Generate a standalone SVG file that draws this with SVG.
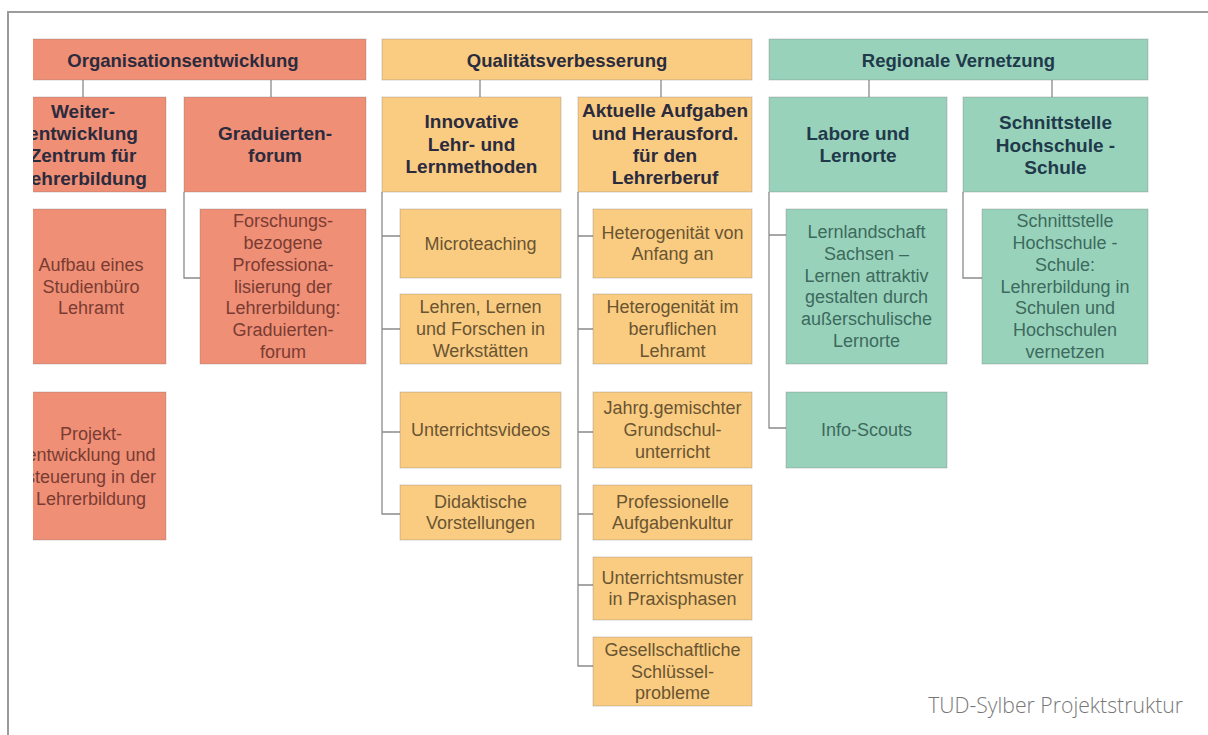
<svg xmlns="http://www.w3.org/2000/svg" width="1208" height="735" viewBox="0 0 1208 735">
<defs>
<style>
.s{fill:#EF8F76;stroke:rgba(110,110,110,0.3);stroke-width:1}
.o{fill:#F9CC82;stroke:rgba(110,110,110,0.3);stroke-width:1}
.g{fill:#99D2BB;stroke:rgba(110,110,110,0.3);stroke-width:1}
.h{font-family:"Liberation Sans",Arial,sans-serif;font-weight:bold;font-size:18.5px;fill:#2b2b3d;text-anchor:middle}
.b{font-family:"Liberation Sans",Arial,sans-serif;font-weight:bold;font-size:19px;fill:#2b2b3d;text-anchor:middle}
.bg{fill:#1f3a4a}
.t{font-family:"Liberation Sans",Arial,sans-serif;font-size:18px;text-anchor:middle}
.ts{fill:#7a3c32}
.to{fill:#6a5431}
.tg{fill:#3c6a5d}
.c{fill:none;stroke:#8a8a8a;stroke-width:1.3}
</style>
<clipPath id="clip"><rect x="33" y="0" width="1175" height="735"/></clipPath>
</defs>
<rect x="0" y="0" width="1208" height="735" fill="#fff"/>
<g id="frame"><path d="M8,735 V12 H1208" fill="none" stroke="#9b9b9b" stroke-width="2"/></g>
<g clip-path="url(#clip)">
<g id="connectors">
<path class="c" d="M83,80 V97 M271,80 V97 M480,80 V97 M661,80 V97 M869,80 V97 M1052,80 V97"/>
<path class="c" d="M184,192 V278 H200"/>
<path class="c" d="M382,192 V514 H400 M382,236 H400 M382,329 H400 M382,432 H400"/>
<path class="c" d="M578,192 V666 H593 M578,236 H593 M578,329 H593 M578,432 H593 M578,514 H593 M578,585 H593"/>
<path class="c" d="M769,192 V428 H786 M769,235 H786"/>
<path class="c" d="M963,192 V278 H982"/>
</g>
<g id="organisationsentwicklung"><rect class="s" x="0" y="39" width="366" height="41"/><text class="h" x="183" y="66.5">Organisationsentwicklung</text></g>
<g id="qualitaetsverbesserung"><rect class="o" x="382" y="39" width="370" height="41"/><text class="h" x="567" y="66.5">Qualitätsverbesserung</text></g>
<g id="regionale-vernetzung"><rect class="g" x="769" y="39" width="379" height="41"/><text class="h bg" x="958.5" y="66.5">Regionale Vernetzung</text></g>

<g id="weiterentwicklung"><rect class="s" x="0" y="97" width="166" height="95"/><text class="b"><tspan x="83" y="117.6">Weiter-</tspan><tspan x="83" y="139.9">entwicklung</tspan><tspan x="83" y="162.2">Zentrum für</tspan><tspan x="83" y="184.5">Lehrerbildung</tspan></text></g>
<g id="graduiertenforum"><rect class="s" x="184" y="97" width="182" height="95"/><text class="b"><tspan x="275" y="139.9">Graduierten-</tspan><tspan x="275" y="162.2">forum</tspan></text></g>
<g id="innovative"><rect class="o" x="382" y="97" width="179" height="95"/><text class="b"><tspan x="471.5" y="127.7">Innovative</tspan><tspan x="471.5" y="150.5">Lehr- und</tspan><tspan x="471.5" y="173">Lernmethoden</tspan></text></g>
<g id="aktuelle-aufgaben"><rect class="o" x="578" y="97" width="174" height="95"/><text class="b"><tspan x="665" y="117.4">Aktuelle Aufgaben</tspan><tspan x="665" y="139.6">und Herausford.</tspan><tspan x="665" y="161.9">für den</tspan><tspan x="665" y="184.2">Lehrerberuf</tspan></text></g>
<g id="labore"><rect class="g" x="769" y="97" width="178" height="95"/><text class="b bg"><tspan x="858" y="140.3">Labore und</tspan><tspan x="858" y="162.4">Lernorte</tspan></text></g>
<g id="schnittstelle"><rect class="g" x="963" y="97" width="185" height="95"/><text class="b bg"><tspan x="1055.5" y="129.3">Schnittstelle</tspan><tspan x="1055.5" y="151.6">Hochschule -</tspan><tspan x="1055.5" y="173.9">Schule</tspan></text></g>

<g id="aufbau"><rect class="s" x="16" y="209" width="150" height="155"/><text class="t ts"><tspan x="91" y="270.8">Aufbau eines</tspan><tspan x="91" y="292.5">Studienbüro</tspan><tspan x="91" y="314.2">Lehramt</tspan></text></g>
<g id="forschung"><rect class="s" x="200" y="209" width="166" height="155"/><text class="t ts"><tspan x="283" y="227.4">Forschungs-</tspan><tspan x="283" y="249.1">bezogene</tspan><tspan x="283" y="270.8">Professiona-</tspan><tspan x="283" y="292.5">lisierung der</tspan><tspan x="283" y="314.2">Lehrerbildung:</tspan><tspan x="283" y="335.9">Graduierten-</tspan><tspan x="283" y="357.6">forum</tspan></text></g>
<g id="projekt"><rect class="s" x="16" y="392" width="150" height="148"/><text class="t ts"><tspan x="91" y="439.5">Projekt-</tspan><tspan x="91" y="461.2">entwicklung und</tspan><tspan x="91" y="482.9">steuerung in der</tspan><tspan x="91" y="504.6">Lehrerbildung</tspan></text></g>

<g id="microteaching"><rect class="o" x="400" y="209" width="161" height="69"/><text class="t to" x="480.5" y="249.5">Microteaching</text></g>
<g id="lehren"><rect class="o" x="400" y="294" width="161" height="70"/><text class="t to"><tspan x="480.5" y="313.3">Lehren, Lernen</tspan><tspan x="480.5" y="335">und Forschen in</tspan><tspan x="480.5" y="356.7">Werkstätten</tspan></text></g>
<g id="unterrichtsvideos"><rect class="o" x="400" y="392" width="161" height="76"/><text class="t to" x="480.5" y="436">Unterrichtsvideos</text></g>
<g id="didaktische"><rect class="o" x="400" y="485" width="161" height="55"/><text class="t to"><tspan x="480.5" y="507.6">Didaktische</tspan><tspan x="480.5" y="529.3">Vorstellungen</tspan></text></g>

<g id="heterogenitaet-anfang"><rect class="o" x="593" y="209" width="159" height="69"/><text class="t to"><tspan x="672.5" y="238.6">Heterogenität von</tspan><tspan x="672.5" y="260.3">Anfang an</tspan></text></g>
<g id="heterogenitaet-beruf"><rect class="o" x="593" y="294" width="159" height="70"/><text class="t to"><tspan x="672.5" y="313.3">Heterogenität im</tspan><tspan x="672.5" y="335">beruflichen</tspan><tspan x="672.5" y="356.7">Lehramt</tspan></text></g>
<g id="jahrgang"><rect class="o" x="593" y="392" width="159" height="76"/><text class="t to"><tspan x="672.5" y="414.3">Jahrg.gemischter</tspan><tspan x="672.5" y="436">Grundschul-</tspan><tspan x="672.5" y="457.7">unterricht</tspan></text></g>
<g id="aufgabenkultur"><rect class="o" x="593" y="485" width="159" height="55"/><text class="t to"><tspan x="672.5" y="507.6">Professionelle</tspan><tspan x="672.5" y="529.3">Aufgabenkultur</tspan></text></g>
<g id="unterrichtsmuster"><rect class="o" x="593" y="557" width="159" height="63"/><text class="t to"><tspan x="672.5" y="583.6">Unterrichtsmuster</tspan><tspan x="672.5" y="605.3">in Praxisphasen</tspan></text></g>
<g id="schluesselprobleme"><rect class="o" x="593" y="637" width="159" height="69"/><text class="t to"><tspan x="672.5" y="655.8">Gesellschaftliche</tspan><tspan x="672.5" y="677.5">Schlüssel-</tspan><tspan x="672.5" y="699.2">probleme</tspan></text></g>

<g id="lernlandschaft"><rect class="g" x="786" y="209" width="161" height="155"/><text class="t tg"><tspan x="866.5" y="238.3">Lernlandschaft</tspan><tspan x="866.5" y="260">Sachsen –</tspan><tspan x="866.5" y="281.7">Lernen attraktiv</tspan><tspan x="866.5" y="303.4">gestalten durch</tspan><tspan x="866.5" y="325.1">außerschulische</tspan><tspan x="866.5" y="346.8">Lernorte</tspan></text></g>
<g id="info-scouts"><rect class="g" x="786" y="392" width="161" height="76"/><text class="t tg" x="866.5" y="436">Info-Scouts</text></g>
<g id="schnittstelle-sub"><rect class="g" x="982" y="209" width="166" height="155"/><text class="t tg"><tspan x="1065" y="227.4">Schnittstelle</tspan><tspan x="1065" y="249.1">Hochschule -</tspan><tspan x="1065" y="270.8">Schule:</tspan><tspan x="1065" y="292.5">Lehrerbildung in</tspan><tspan x="1065" y="314.2">Schulen und</tspan><tspan x="1065" y="335.9">Hochschulen</tspan><tspan x="1065" y="357.6">vernetzen</tspan></text></g>
</g>
<text id="caption" x="1183" y="713" font-family="'Open Sans',sans-serif" font-weight="300" font-size="21.2" fill="#777777" text-anchor="end">TUD-Sylber Projektstruktur</text>
</svg>
